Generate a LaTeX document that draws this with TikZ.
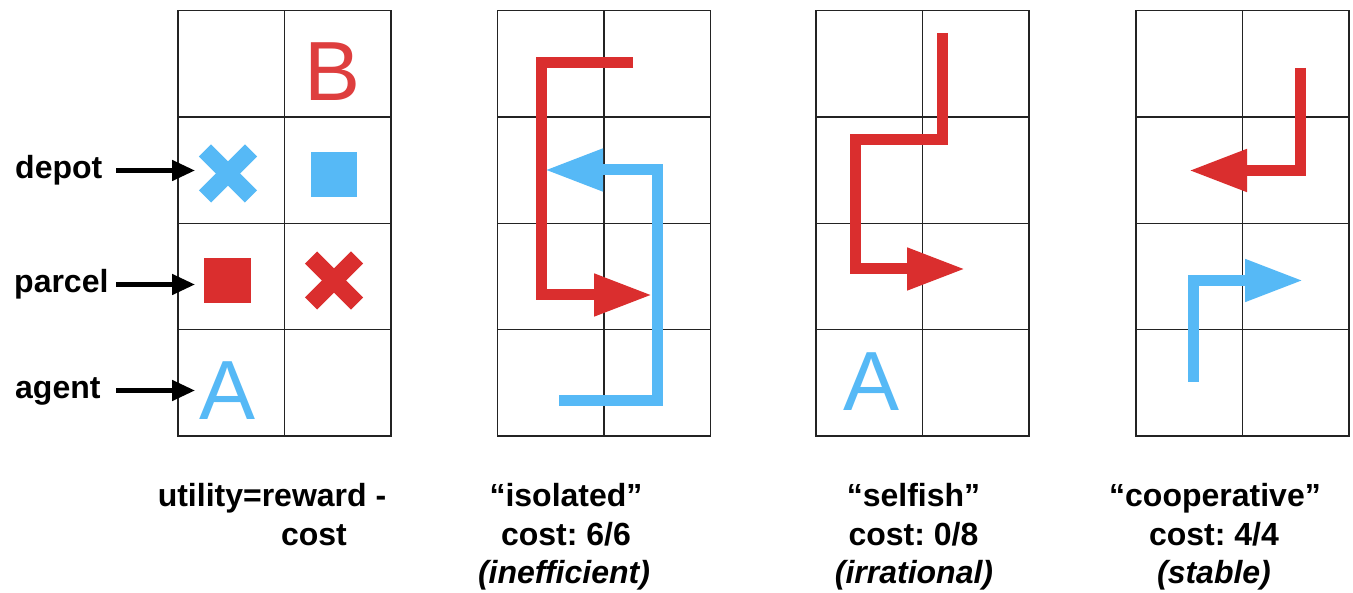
\documentclass[tikz,border=0pt]{standalone}
\usepackage{fontspec}
\setmainfont{Liberation Sans}
\usetikzlibrary{arrows.meta}
\definecolor{rd}{RGB}{218,46,46}
\definecolor{bl}{RGB}{86,185,246}
\definecolor{rdB}{RGB}{222,62,62}
\definecolor{gridc}{RGB}{35,35,35}
\frenchspacing
\begin{document}
\begin{tikzpicture}[x=1pt,y=-1pt,
  gridline/.style={draw=gridc,line width=1.5pt},
  route/.style={line width=11pt, line join=miter, -{Triangle[length=58pt,width=40pt]}},
  lbltxt/.style={font=\fontsize{32}{38}\selectfont\bfseries, inner sep=0pt, anchor=base west},
  captxt/.style={font=\fontsize{32}{38}\selectfont\bfseries, inner sep=0pt, anchor=base},
  captxtit/.style={font=\fontsize{32}{38}\selectfont\bfseries\itshape, inner sep=0pt, anchor=base},
  bigletter/.style={font=\fontsize{84}{90}\selectfont, inner sep=0pt, anchor=base},
  lblarrow/.style={line width=4.8pt, -{Triangle[length=23pt,width=20pt]}},
  crossline/.style={line width=17pt}
]
\useasboundingbox (0,0) rectangle (1353,593);
\fill[white] (0,0) rectangle (1353,593);

% grids
\foreach \L in {178,497.5,816,1136} {
  \draw[gridline] (\L,10.5) rectangle ++(213.2,425.5);
  \draw[gridline] (\L+106.6,10.5) -- ++(0,425.5);
  \foreach \r in {1,2,3} \draw[gridline] (\L,10.5+106.4*\r) -- ++(213.2,0);
}

% grid 1 contents
\node[bigletter, text=rdB] (B) at (333,101) {B};
\node[bigletter, text=bl] (A1) at (227.5,420) {A};
\draw[crossline, bl] (205,150.5) -- (251,196.5);
\draw[crossline, bl] (205,196.5) -- (251,150.5);
\fill[bl] (311,152) rectangle (357,197);
\fill[rd] (204,258) rectangle (251,303);
\draw[crossline, rd] (311,257.5) -- (357,303.5);
\draw[crossline, rd] (311,303.5) -- (357,257.5);

% labels
\node[lbltxt] (depot) at (15,179) {depot};
\node[lbltxt] (parcel) at (14,293) {parcel};
\node[lbltxt] (agent) at (15,399) {agent};
\coordinate (depotS) at (116,170.5);
\coordinate (depotE) at (195,170.5);
\coordinate (parcelS) at (116,284.5);
\coordinate (parcelE) at (195,284.5);
\coordinate (agentS) at (116,390.5);
\coordinate (agentE) at (195,390.5);
\draw[lblarrow] (depotS) -- (depotE);
\draw[lblarrow] (parcelS) -- (parcelE);
\draw[lblarrow] (agentS) -- (agentE);

% grid 2 routes
\draw[route, rd] (633,63) -- (541,63) -- (541,295) -- (652,295);
\draw[route, bl] (559,400.5) -- (657.5,400.5) -- (657.5,170) -- (545,170);

% grid 3
\node[bigletter, text=bl] (A3) at (871.5,411) {A};
\draw[route, rd] (942.5,33) -- (942.5,140) -- (855.5,140) -- (855.5,269) -- (965,269);

% grid 4
\draw[route, rd] (1300.5,68) -- (1300.5,170.5) -- (1189,170.5);
\draw[route, bl] (1193.5,382) -- (1193.5,280.5) -- (1303,280.5);

% captions
\node[captxt] (u1) at (272,507) {utility=reward -};
\node[captxt] (u2) at (314,545) {cost};

\node[captxt] (i1) at (566,507) {“isolated”};
\node[captxt] (i2) at (566,545) {cost: 6/6};
\node[captxtit] (i3) at (564,583) {(inefficient)};

\node[captxt] (s1) at (913.5,507) {“selfish”};
\node[captxt] (s2) at (913.5,545) {cost: 0/8};
\node[captxtit] (s3) at (914,583) {(irrational)};

\node[captxt] (c1) at (1215,507) {“cooperative”};
\node[captxt] (c2) at (1214,545) {cost: 4/4};
\node[captxtit] (c3) at (1214,583) {(stable)};
\end{tikzpicture}
\end{document}
